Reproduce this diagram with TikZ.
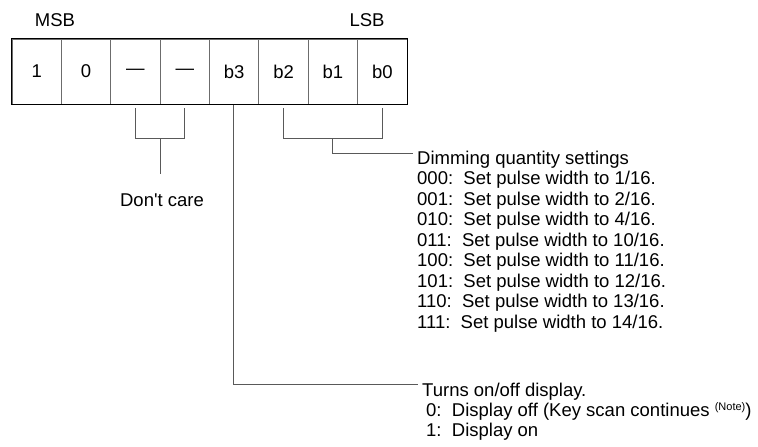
\documentclass[tikz,border=0pt]{standalone}
\usepackage{fontspec}
\setmainfont{Liberation Sans}[Ligatures=TeXOff]
\usetikzlibrary{calc}
\begin{document}
\begin{tikzpicture}[x=1pt,y=-1pt,
  every node/.style={font=\fontsize{18.5}{20}\selectfont, inner sep=0pt},
  cell/.style={draw=gray!85!black, line width=0.9pt, minimum width=49.375pt, minimum height=65pt},
  lead/.style={line width=0.9pt, draw=gray!70!black},
  txt/.style={anchor=base west}]
\useasboundingbox (0,0) rectangle (758,447);
% cells
\foreach \i/\t in {0/1,1/0,2/—,3/—,4/b3,5/b2,6/b1,7/b0}{
  \node[cell] (c\i) at ({12+49.375*(\i+0.5)},71.5) {\t};
}
\draw[line width=1pt] (c0.north west) rectangle (c7.south east);
% header
\node[anchor=base] (msb) at (55,26) {MSB};
\node[anchor=base] (lsb) at (367,26) {LSB};
% don't care bracket
\path (c2.south) ++(0,4) coordinate (dcl) ++(0,30) coordinate (dclb);
\path (c3.south) ++(0,4) coordinate (dcr) ++(0,30) coordinate (dcrb);
\draw[lead] (dcl) -- (dclb) -- (dcrb) -- (dcr);
\coordinate (dcm) at ($(dclb)!0.5!(dcrb)$);
\node[anchor=base] (dc) at (162,206) {Don't care};
\draw[lead] (dcm) -- ++(0,36) coordinate (dcs);
% b2-b0 bracket
\path (c5.south) ++(0,4) coordinate (bl) ++(0,30) coordinate (blb);
\path (c7.south) ++(0,4) coordinate (br) ++(0,30) coordinate (brb);
\draw[lead] (bl) -- (blb) -- (brb) -- (br);
\coordinate (bm) at ($(blb)!0.5!(brb)$);
% dimming text
\node[txt] (dim) at (417,164) {Dimming quantity settings};
\foreach \k/\c/\v in {1/000/1,2/001/2,3/010/4,4/011/10,5/100/11,6/101/12,7/110/13,8/111/14}{
  \node[txt] (d\k) at (417,{164+20.5*\k}) {\c:\ \ Set pulse width to \v/16.};
}
\draw[lead] (bm) |- ($(dim.base west)+(-4,-11)$);
% b3 line
\node[txt] (turn) at (422,396) {Turns on/off display.};
\node[txt] (t0) at (426,416.7) {0:\ \ Display off (Key scan continues {\raisebox{6pt}{\fontsize{11}{11}\selectfont (Note)}})};
\node[txt] (t1) at (426,436.7) {1:\ \ Display on};
\draw[lead] ($(c4.south)+(-1,1)$) |- ($(turn.base west)+(-4,-12)$);
\end{tikzpicture}
\end{document}
